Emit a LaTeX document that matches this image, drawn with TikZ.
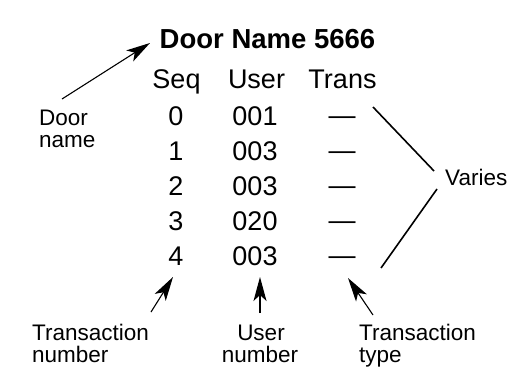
\documentclass[tikz,border=0pt]{standalone}
\usepackage{fontspec}
\setmainfont{Liberation Sans}
\usetikzlibrary{arrows.meta}
\begin{document}
\begin{tikzpicture}[x=1pt,y=-1pt,
  tbl/.style={inner sep=0pt,anchor=base,font=\fontsize{27}{27}\selectfont},
  ttl/.style={inner sep=0pt,anchor=base,font=\fontsize{27.5}{27.5}\selectfont\bfseries},
  lbl/.style={inner sep=0pt,font=\fontsize{22.5}{22}\selectfont},
  ptr/.style={line width=1.1pt,-{Stealth[length=24pt,width=13pt,inset=6pt]}},
  brace/.style={line width=1.6pt}]
\useasboundingbox (0,0) rectangle (526,388);
% title and headers
\node[ttl] (title) at (267.5,48) {Door Name 5666};
\node[tbl] (hseq) at (176.5,88) {Seq};
\node[tbl] (huser) at (256.5,88) {User};
\node[tbl] (htrans) at (342.5,88) {Trans};
% rows
\foreach \s/\u [count=\i from 0] in {0/001,1/003,2/003,3/020,4/003}{
  \node[tbl] (s\i) at (176,125+35*\i) {\s};
  \node[tbl] (u\i) at (255,125+35*\i) {\u};
  \node[tbl] (t\i) at (342,124+35*\i) {—};
}
% labels
\node[lbl,anchor=base west] (dn1) at (39,125) {Door};
\node[lbl,anchor=base west] (dn2) at (39,147) {name};
\node[lbl,anchor=base west] (tn1) at (32,340) {Transaction};
\node[lbl,anchor=base west] (tn2) at (32,362) {number};
\node[lbl,anchor=base] (un1) at (261,340) {User};
\node[lbl,anchor=base] (un2) at (260,362) {number};
\node[lbl,anchor=base west] (tt1) at (359,340) {Transaction};
\node[lbl,anchor=base west] (tt2) at (359,362) {type};
\node[lbl,anchor=base west] (var) at (445,185) {Varies};
% arrows
\coordinate (dtail) at (62,99);
\coordinate (dtip) at (150,43);
\draw[ptr] (dtail) -- (dtip);
\coordinate (tntail) at (151,312);
\coordinate (tntip) at (173,277);
\draw[ptr] (tntail) -- (tntip);
\coordinate (untail) at (260,313);
\coordinate (untip) at (260,277);
\draw[ptr] (untail) -- (untip);
\coordinate (tttail) at (373,315);
\coordinate (tttip) at (348,278);
\draw[ptr] (tttail) -- (tttip);
% varies lines
\coordinate (v1a) at (373,107);
\coordinate (v1b) at (434,171);
\coordinate (v2a) at (437,189);
\coordinate (v2b) at (381,268);
\draw[brace] (v1a) -- (v1b);
\draw[brace] (v2a) -- (v2b);
\end{tikzpicture}
\end{document}
